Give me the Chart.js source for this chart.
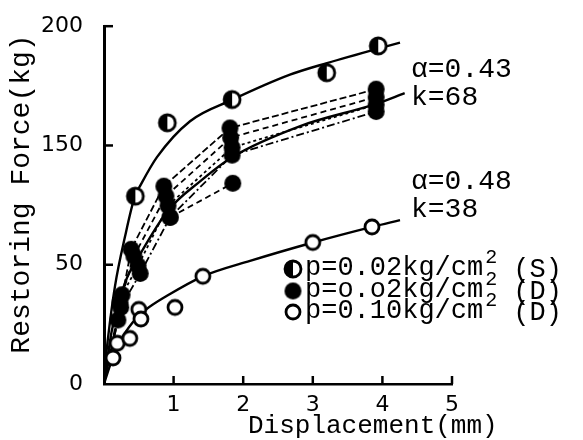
<!DOCTYPE html>
<html>
<head>
<meta charset="utf-8">
<script src="https://cdn.jsdelivr.net/npm/chart.js@4.4.1/dist/chart.umd.min.js"></script>
<style>
  body { margin: 0; background: #fff; }
  #wrap { width: 583px; height: 440px; }
</style>
</head>
<body>
<div id="wrap"><canvas id="forceChart" width="583" height="440"></canvas></div>
<script>
// axis labels
const xTickLabels = ['', '1', '2', '3', '4', '5'];
const yTickLabels = ['0', '50', '150', '200'];

// upper fitted curve (S)
const upperCurveX = [0, 0.014, 0.057, 0.158, 0.302, 0.445, 0.517, 0.761, 1.236, 1.839, 2.672, 3.204, 3.937, 4.253];
const upperCurveY = [0, 9.2, 25.5, 54.7, 82.4, 105.1, 110.6, 126.8, 146.9, 158.8, 172.9, 179.4, 187.5, 190.8];
// p=0.02 (S) measured points
const sPointsX = [0.45, 0.91, 1.84, 3.20, 3.94];
const sPointsY = [105, 146, 159, 174, 189];

// p=0.02 (D) fitted curve, alpha=0.43 k=68
const midFitX = [0, 0.11, 0.30, 0.52, 0.92, 1.38, 1.84, 2.82, 3.91, 4.32];
const midFitY = [0, 29.3, 56.4, 72.6, 97.0, 113.3, 126.8, 144.2, 156.6, 162.6];
// p=0.02 (D) specimens
const spec1X = [0, 0.20, 0.39, 0.86, 1.81, 3.91];
const spec1Y = [0, 35.8, 75.3, 110.6, 143.1, 164.8];
const spec2X = [0, 0.23, 0.43, 0.89, 1.82, 3.91];
const spec2Y = [0, 45.5, 71.5, 105.1, 137.7, 160.4];
const spec3X = [0, 0.26, 0.49, 0.92, 1.84, 3.91];
const spec3Y = [0, 49.9, 66.1, 99.7, 132.2, 156.1];
const spec4X = [0, 0.24, 0.52, 0.95, 1.84, 3.91];
const spec4Y = [0, 42.8, 61.8, 93.2, 127.9, 152.3];
const spec5X = [0.95, 1.85];
const spec5Y = [93.2, 112.2];

// p=0.10 (D) fitted curve, alpha=0.48 k=38
const lowerCurveX = [0, 0.086, 0.23, 0.417, 0.589, 0.905, 1.422, 2.098, 3.003, 3.851, 4.253];
const lowerCurveY = [0, 10.3, 23.8, 34.7, 41.2, 49.3, 60.2, 68.8, 79.1, 87.8, 91.6];
const openPointsX = [0.13, 0.19, 0.37, 0.50, 0.53, 1.02, 1.42, 3.00, 3.85];
const openPointsY = [14.6, 22.8, 25.5, 41.7, 36.3, 42.8, 60.2, 79.1, 87.8];

const legendLabels = ['p=0.02kg/cm', 'p=o.o2kg/cm', 'p=0.10kg/cm'];
const legendTails = ['(S)', '(D)', '(D)'];
const fitNotes = [['\u03b1=0.43', 'k=68'], ['\u03b1=0.48', 'k=38']];

const toPts = (xs, ys) => xs.map((x, i) => ({ x, y: ys[i] }));

function makeMarker(kind, r) {
  const c = document.createElement('canvas');
  const s = r * 2 + 6;
  c.width = s; c.height = s;
  const g = c.getContext('2d');
  const m = s / 2;
  g.beginPath();
  g.arc(m, m, r, 0, Math.PI * 2);
  if (kind === 'filled') {
    g.fillStyle = '#000';
    g.fill();
  } else {
    g.fillStyle = '#fff';
    g.fill();
    g.lineWidth = 2.8;
    g.strokeStyle = '#000';
    g.stroke();
    if (kind === 'half') {
      g.beginPath();
      g.arc(m, m, r, Math.PI / 2, Math.PI * 1.5);
      g.closePath();
      g.fillStyle = '#000';
      g.fill();
    }
  }
  return c;
}

const halfMark = makeMarker('half', 8);
const fillMark = makeMarker('filled', 8.5);
const openMark = makeMarker('open', 7);

const monoFont = '"Liberation Mono", "DejaVu Sans Mono", monospace';

function curve(xs, ys) {
  return {
    data: toPts(xs, ys), showLine: true, borderColor: '#000', borderWidth: 2.4,
    pointRadius: 0, cubicInterpolationMode: 'monotone', order: 2
  };
}
function specimen(xs, ys, dash) {
  return {
    data: toPts(xs, ys), showLine: true, borderColor: '#000', borderWidth: 1.8,
    borderDash: dash, tension: 0,
    pointStyle: fillMark, pointRadius: (c) => (c.raw.x === 0 ? 0 : 8),
    order: 1
  };
}
function marks(xs, ys, img) {
  return { data: toPts(xs, ys), showLine: false, pointStyle: img, pointRadius: 8, order: 0 };
}

// extra drawing: inward ticks, axis titles, legend, fit notes
const decorPlugin = {
  id: 'decor',
  afterDraw(chart) {
    const ctx = chart.ctx;
    const xs = chart.scales.x, ys = chart.scales.y;
    const a = chart.chartArea;
    ctx.save();
    ctx.strokeStyle = '#000';
    ctx.lineWidth = 2.5;
    ys.ticks.forEach(t => {
      if (t.value === 0) return;
      const py = ys.getPixelForValue(t.value);
      ctx.beginPath(); ctx.moveTo(a.left, py); ctx.lineTo(a.left + 9, py); ctx.stroke();
    });
    xs.ticks.forEach(t => {
      if (t.value === 0) return;
      const px = xs.getPixelForValue(t.value);
      ctx.beginPath(); ctx.moveTo(px, a.bottom); ctx.lineTo(px, a.bottom - 8); ctx.stroke();
    });

    ctx.fillStyle = '#000';
    ctx.textBaseline = 'alphabetic';
    // x title
    ctx.font = '26px ' + monoFont;
    ctx.textAlign = 'left';
    ctx.fillText('Displacement(mm)', 248, 433);
    // y title
    ctx.save();
    ctx.translate(29, 194);
    ctx.rotate(-Math.PI / 2);
    ctx.textAlign = 'center';
    ctx.font = '28px ' + monoFont;
    ctx.fillText('Restoring Force(kg)', 0, 0);
    ctx.restore();

    // fit notes
    ctx.font = '28px ' + monoFont;
    ctx.textAlign = 'left';
    ctx.fillText(fitNotes[0][0], 411, 77);
    ctx.fillText(fitNotes[0][1], 411, 105);
    ctx.fillText(fitNotes[1][0], 411, 189);
    ctx.fillText(fitNotes[1][1], 411, 217);

    // legend
    const legendMarks = [halfMark, fillMark, openMark];
    const baseY = [275, 297, 318];
    legendLabels.forEach((lab, i) => {
      const img = legendMarks[i];
      ctx.drawImage(img, 293 - img.width / 2, baseY[i] - 6 - img.height / 2);
      ctx.font = '27px ' + monoFont;
      ctx.fillText(lab, 305, baseY[i]);
      const w = ctx.measureText(lab).width;
      ctx.font = '20px ' + monoFont;
      ctx.fillText('2', 305 + w + 2, baseY[i] - 12);
      ctx.font = '27px ' + monoFont;
      ctx.fillText(legendTails[i], 305 + w + 30, baseY[i] + 2);
    });
    ctx.restore();
  }
};

const chart = new Chart(document.getElementById('forceChart'), {
  type: 'scatter',
  data: {
    datasets: [
      curve(upperCurveX, upperCurveY),
      curve(midFitX, midFitY),
      curve(lowerCurveX, lowerCurveY),
      specimen(spec1X, spec1Y, [7, 3]),
      specimen(spec2X, spec2Y, [6, 4]),
      specimen(spec3X, spec3Y, [3, 3]),
      specimen(spec4X, spec4Y, [8, 3, 2, 3]),
      specimen(spec5X, spec5Y, [6, 4]),
      marks(sPointsX, sPointsY, halfMark),
      marks(openPointsX, openPointsY, openMark)
    ]
  },
  options: {
    responsive: false,
    animation: false,
    layout: { padding: { top: 15, right: 131, left: 0, bottom: 0 } },
    plugins: { legend: { display: false }, tooltip: { enabled: false } },
    scales: {
      x: {
        type: 'linear', min: 0, max: 5,
        afterFit: (s) => { s.height = 56; },
        afterBuildTicks: (s) => { s.ticks = xTickLabels.map((_, i) => ({ value: i })); },
        ticks: {
          color: '#000', padding: 0,
          font: { family: '"DejaVu Sans", sans-serif', size: 22 },
          callback: (v, i) => xTickLabels[i]
        },
        grid: { display: false },
        border: { display: true, color: '#000', width: 2.5 }
      },
      y: {
        type: 'linear', min: 0, max: 200,
        afterFit: (s) => { s.width = 104; },
        afterBuildTicks: (s) => {
          s.ticks = yTickLabels.map((_, i) => ({ value: i * 200 / (yTickLabels.length - 1) }));
        },
        ticks: {
          color: '#000', padding: 13,
          font: { family: '"DejaVu Sans", sans-serif', size: 22 },
          callback: (v, i) => yTickLabels[i]
        },
        grid: { display: false },
        border: { display: true, color: '#000', width: 3 }
      }
    }
  },
  plugins: [decorPlugin]
});
</script>
</body>
</html>
